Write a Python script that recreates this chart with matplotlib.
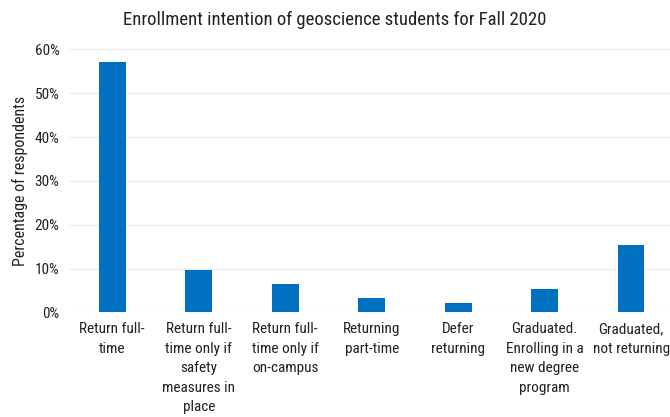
import matplotlib.pyplot as plt
from matplotlib.ticker import PercentFormatter

plt.rcParams['font.family'] = ['Roboto Condensed', 'Liberation Sans Narrow', 'Roboto', 'DejaVu Sans']

categories = ["Return full-\ntime",
              "Return full-\ntime only if\nsafety\nmeasures in\nplace",
              "Return full-\ntime only if\non-campus",
              "Returning\npart-time",
              "Defer\nreturning",
              "Graduated.\nEnrolling in a\nnew degree\nprogram",
              "Graduated,\nnot returning"]
values = [0.571, 0.098, 0.066, 0.032, 0.022, 0.054, 0.153]

fig = plt.figure(figsize=(6.7, 4.17), dpi=100)
ax = fig.add_axes([0.103, 0.2506, 0.897, 0.6312])

x = range(len(categories))
ax.bar(x, values, width=0.31, color='#0070C0', zorder=3)

ax.set_ylim(0, 0.6)
ax.set_xlim(-0.5, 6.45)
ax.set_yticks([0, 0.1, 0.2, 0.3, 0.4, 0.5, 0.6])
ax.yaxis.set_major_formatter(PercentFormatter(1.0, decimals=0))
ax.grid(axis='y', color='#ececec', linewidth=0.8, zorder=0)
for s in ax.spines.values():
    s.set_visible(False)
ax.axhline(0, color='#e0e0e0', linewidth=0.8, zorder=2)

ax.set_xticks(list(x))
ax.set_xticklabels(categories, fontsize=11, linespacing=1.5, color='#222222')
ax.tick_params(axis='both', length=0, labelsize=11, colors='#222222')
ax.tick_params(axis='x', pad=7)
ax.tick_params(axis='y', pad=7)
ax.set_ylabel('Percentage of respondents', fontsize=11.5, color='#222222', labelpad=5)

fig.text(0.5, 0.953, 'Enrollment intention of geoscience students for Fall 2020',
         ha='center', va='center', fontsize=13.5, color='#222222')

fig.savefig('out.png', dpi=100)
